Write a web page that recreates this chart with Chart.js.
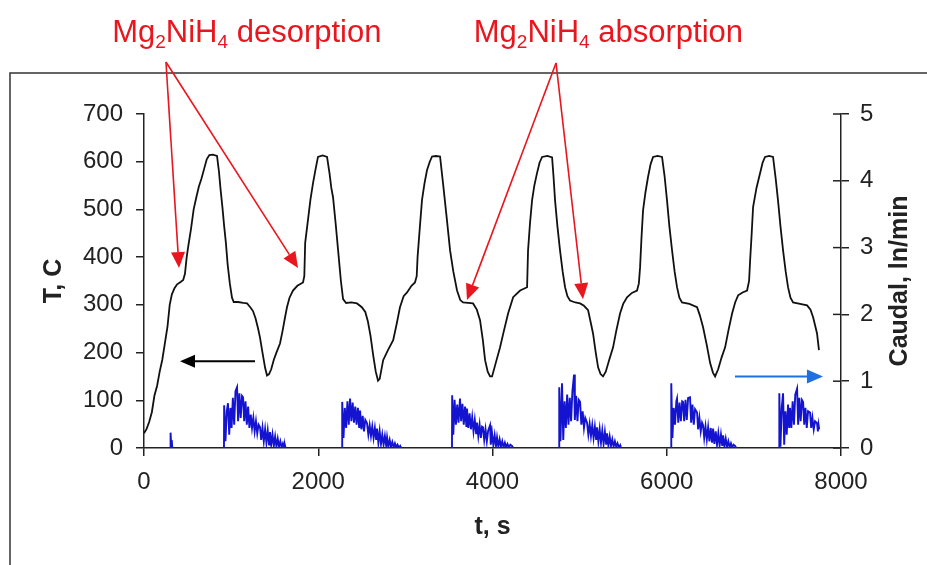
<!DOCTYPE html>
<html>
<head>
<meta charset="utf-8">
<script src="https://cdn.jsdelivr.net/npm/chart.js@4.4.1/dist/chart.umd.min.js"></script>
<style>
  html, body { margin: 0; padding: 0; background: #fff; }
  #wrap { width: 927px; height: 565px; }
</style>
</head>
<body>
<div id="wrap"><canvas id="tempChart" width="927" height="565"></canvas></div>
<script>
// temperature T (C) vs time t (s)
const tempTime = [
  0, 30, 60, 90, 120, 150, 180, 210, 240, 270, 295, 320, 350, 380, 420, 450, 470, 490, 510, 540,
  570, 600, 630, 660, 690, 720, 750, 790, 838, 860, 880, 900, 920, 940, 960, 985, 1010, 1030, 1080, 1140,
  1183, 1220, 1251, 1280, 1310, 1331, 1360, 1390, 1412, 1435,
  1460, 1490, 1520, 1561, 1590, 1620, 1641, 1670, 1710, 1760, 1825, 1840, 1850, 1880, 1910, 1940, 1970, 1997, 2050, 2101,
  2130, 2150, 2170, 2200, 2230, 2260, 2285, 2320, 2380, 2445, 2500, 2540, 2570, 2600, 2630, 2660, 2686, 2705,
  2745, 2800, 2860, 2900, 2938, 2980, 3019, 3070, 3110, 3130, 3140, 3165, 3191, 3220, 3248, 3280, 3306, 3350, 3398, 3432,
  3470, 3513, 3550, 3593, 3630, 3662, 3720, 3777, 3820, 3857, 3890, 3915, 3945, 3972,
  3995, 4040, 4087, 4130, 4179, 4237, 4317, 4397, 4408, 4430, 4454, 4480, 4511, 4540, 4569, 4630, 4684, 4700, 4718, 4745,
  4775, 4805, 4833, 4860, 4890, 4950, 5005, 5050, 5097, 5125, 5154, 5185, 5212, 5240, 5269,
  5300, 5340, 5384, 5420, 5464, 5500, 5544, 5600, 5659, 5680, 5694, 5710, 5728, 5755, 5785, 5815, 5843, 5895, 5946, 5975,
  6003, 6030, 6061, 6090, 6118, 6145, 6175, 6260, 6348, 6380, 6417, 6460, 6498, 6530, 6555,
  6590, 6630, 6670, 6710, 6750, 6785, 6819, 6870, 6922, 6945, 6957, 6975, 6991, 7030, 7071, 7100, 7128, 7175, 7220, 7250,
  7277, 7305, 7335, 7365, 7392, 7420, 7450, 7530, 7611, 7650, 7680, 7705, 7725, 7747
];
const tempC = [
  31, 40, 55, 75, 110, 130, 160, 185, 220, 255, 300, 322, 335, 343, 348, 352, 365, 400, 425, 460,
  500, 525, 548, 565, 585, 605, 614, 615, 612, 580, 540, 505, 465, 430, 385, 345, 315, 306, 306, 304,
  303, 295, 287, 272, 250, 232, 200, 168, 152, 155,
  165, 185, 200, 219, 245, 275, 295, 315, 330, 340, 347, 360, 430, 475, 520, 555, 585, 610, 613, 610,
  575, 545, 525, 470, 410, 350, 312, 304, 305, 303, 295, 285, 265, 235, 195, 160, 141, 145,
  184, 205, 226, 260, 295, 318, 326, 340, 347, 360, 400, 460, 520, 555, 582, 600, 611, 612, 611, 555,
  490, 414, 370, 330, 310, 305, 304, 303, 290, 268, 225, 184, 160, 150,
  150, 180, 211, 245, 282, 316, 330, 337, 414, 470, 519, 550, 576, 598, 610, 612, 609, 570, 519, 465,
  414, 370, 337, 318, 309, 305, 303, 298, 289, 265, 240, 200, 169, 155, 150,
  160, 185, 211, 245, 282, 302, 316, 325, 330, 345, 379, 440, 498, 535, 568, 595, 610, 612, 610, 570,
  519, 465, 414, 370, 337, 315, 305, 302, 295, 278, 253, 215, 178, 158, 150,
  165, 190, 211, 248, 282, 305, 320, 326, 330, 350, 393, 450, 505, 545, 576, 598, 610, 612, 610, 565,
  519, 465, 414, 370, 337, 315, 305, 302, 299, 290, 274, 255, 240, 205
];

// gas flow (ln/min) bursts, null = no flow between bursts
const flowTime = [
  300, 305, 312, 318, 325, 330,
  918, 920, 935, 950, 964, 978, 992, 1005, 1020, 1035, 1050, 1068, 1080, 1095, 1110, 1125, 1137, 1150, 1165, 1180,
  1195, 1210, 1225, 1240, 1255, 1270, 1285, 1300, 1315, 1332, 1345, 1360, 1375, 1390, 1405, 1420, 1435, 1446, 1460, 1475,
  1490, 1505, 1520, 1535, 1550, 1565, 1580, 1595, 1610, 1618, 1625, 1630,
  2273, 2275, 2290, 2305, 2320, 2335, 2350, 2365, 2380, 2395, 2410, 2425, 2440, 2455, 2470, 2480, 2495, 2510, 2525, 2540,
  2560, 2575, 2590, 2605, 2620, 2635, 2650, 2665, 2675, 2690, 2705, 2720, 2735, 2750, 2765, 2780, 2790, 2805, 2820, 2835,
  2850, 2865, 2880, 2895, 2910, 2925, 2940, 2945, 2950,
  3535, 3537, 3550, 3565, 3580, 3595, 3610, 3627, 3640, 3655, 3670, 3685, 3700, 3707, 3722, 3737, 3752, 3767, 3782, 3797,
  3812, 3822, 3837, 3852, 3867, 3880, 3891, 3905, 3920, 3935, 3950, 3972, 3980, 3995, 4010, 4025, 4040, 4052, 4067, 4082,
  4097, 4112, 4127, 4142, 4157, 4172, 4190, 4205, 4225, 4230, 4235,
  4764, 4766, 4780, 4798, 4812, 4827, 4842, 4857, 4872, 4887, 4902, 4917, 4936, 4945, 4960, 4975, 4990, 5005, 5020, 5035,
  5050, 5065, 5085, 5100, 5115, 5130, 5145, 5160, 5175, 5190, 5200, 5215, 5230, 5245, 5260, 5275, 5290, 5305, 5315, 5330,
  5345, 5360, 5375, 5390, 5405, 5420, 5435, 5450, 5465, 5470, 5475,
  6050, 6052, 6065, 6080, 6095, 6110, 6118, 6132, 6147, 6162, 6177, 6187, 6200, 6215, 6230, 6245, 6267, 6280, 6295, 6310,
  6325, 6348, 6360, 6375, 6390, 6405, 6417, 6430, 6445, 6460, 6475, 6490, 6505, 6520, 6532, 6547, 6562, 6577, 6592, 6607,
  6622, 6637, 6647, 6662, 6677, 6692, 6707, 6722, 6737, 6752, 6767, 6785, 6790, 6795,
  7290, 7292, 7305, 7320, 7335, 7348, 7362, 7377, 7392, 7405, 7415, 7430, 7445, 7460, 7475, 7496, 7508, 7522, 7537, 7552,
  7565, 7578, 7592, 7607, 7622, 7645, 7658, 7672, 7687, 7702, 7725, 7735, 7742, 7750
];
const flowVal = [
  0, 0.23, 0.05, 0.12, 0, null,
  0, 0.64, 0.1, 0.55, 0.67, 0.2, 0.6, 0.3, 0.75, 0.35, 0.85, 0.91, 0.4, 0.82, 0.45, 0.78, 0.76, 0.4, 0.7, 0.35,
  0.62, 0.3, 0.5, 0.3, 0.45, 0.25, 0.4, 0.22, 0.35, 0.31, 0.12, 0.3, 0.1, 0.28, 0.08, 0.26, 0.05, 0.24, 0.05, 0.2,
  0.03, 0.17, 0.02, 0.14, 0.02, 0.1, 0.01, 0.07, 0.01, 0.04, 0, null,
  0, 0.69, 0.15, 0.6, 0.3, 0.7, 0.35, 0.74, 0.4, 0.68, 0.38, 0.62, 0.35, 0.6, 0.3, 0.56, 0.28, 0.48, 0.25, 0.42,
  0.37, 0.2, 0.34, 0.18, 0.32, 0.15, 0.3, 0.12, 0.29, 0.08, 0.25, 0.06, 0.2, 0.05, 0.18, 0.03, 0.16, 0.02, 0.12, 0.02,
  0.09, 0.01, 0.07, 0.01, 0.05, 0.01, 0.03, 0, null,
  0, 0.79, 0.2, 0.72, 0.35, 0.65, 0.38, 0.74, 0.4, 0.66, 0.35, 0.62, 0.33, 0.59, 0.3, 0.52, 0.28, 0.46, 0.25, 0.42,
  0.22, 0.38, 0.18, 0.35, 0.15, 0.32, 0.31, 0.12, 0.28, 0.1, 0.26, 0.34, 0.05, 0.22, 0.04, 0.19, 0.03, 0.16, 0.02, 0.13,
  0.02, 0.1, 0.01, 0.08, 0.01, 0.06, 0.01, 0.05, 0.03, 0, null,
  0, 0.91, 0.1, 0.97, 0.12, 0.7, 0.3, 0.8, 0.35, 0.75, 0.4, 0.85, 1.1, 0.42, 0.78, 0.4, 0.72, 0.69, 0.35, 0.55,
  0.3, 0.45, 0.38, 0.2, 0.36, 0.18, 0.34, 0.15, 0.32, 0.12, 0.31, 0.1, 0.28, 0.08, 0.26, 0.06, 0.24, 0.05, 0.22, 0.04,
  0.17, 0.03, 0.13, 0.02, 0.1, 0.02, 0.07, 0.01, 0.04, 0, null,
  0, 0.97, 0.15, 0.6, 0.35, 0.7, 0.74, 0.38, 0.68, 0.4, 0.7, 0.69, 0.4, 0.72, 0.42, 0.75, 0.76, 0.38, 0.65, 0.35,
  0.58, 0.53, 0.28, 0.45, 0.25, 0.38, 0.34, 0.15, 0.32, 0.13, 0.31, 0.1, 0.3, 0.08, 0.29, 0.06, 0.25, 0.05, 0.22, 0.04,
  0.2, 0.03, 0.19, 0.02, 0.14, 0.02, 0.1, 0.01, 0.07, 0.01, 0.05, 0.03, 0, null,
  0, 0.82, 0.02, 0.6, 0.82, 0.05, 0.55, 0.2, 0.65, 0.3, 0.6, 0.3, 0.7, 0.35, 0.8, 0.89, 0.35, 0.75, 0.4, 0.72,
  0.69, 0.35, 0.6, 0.3, 0.55, 0.53, 0.3, 0.45, 0.28, 0.4, 0.37, 0.25, 0.35, 0.28
];

// axis ticks
const timeTicks = [0, 2000, 4000, 6000, 8000];
const tempTicks = [0, 100, 200, 300, 400, 500, 600, 700];
const flowTicks = [0, 1, 2, 3, 4, 5];

// annotation arrows in data units: [t0, T0, t1, T1] (tail -> tip)
const desorptionArrows = [[252, 809, 402, 377], [252, 809, 1768, 377]];
const absorptionArrows = [[4729, 807, 3707, 310], [4729, 807, 5039, 312]];
const tempArrow = [1274, 182, 413, 182];   // points at left axis
const flowArrow = [6783, 1.07, 7793, 1.07]; // points at right axis (flow units)

const FONT = "'Liberation Sans', Arial, sans-serif";
const INK = '#222';
const RED = '#e8161e';

function drawArrow(ctx, x0, y0, x1, y1, color, width, len, half) {
    const a = Math.atan2(y1 - y0, x1 - x0);
    const bx = x1 - len * Math.cos(a);
    const by = y1 - len * Math.sin(a);
    ctx.strokeStyle = color;
    ctx.fillStyle = color;
    ctx.lineWidth = width;
    ctx.beginPath();
    ctx.moveTo(x0, y0);
    ctx.lineTo(bx, by);
    ctx.stroke();
    ctx.beginPath();
    ctx.moveTo(x1, y1);
    ctx.lineTo(bx + half * Math.sin(a), by - half * Math.cos(a));
    ctx.lineTo(bx - half * Math.sin(a), by + half * Math.cos(a));
    ctx.closePath();
    ctx.fill();
}

// "Mg2NiH4 ..." with subscripts, centred on cx
function drawFormula(ctx, cx, baseY, tail) {
    const parts = [['Mg', 0], ['2', 1], ['NiH', 0], ['4', 1], [tail, 0]];
    const big = '31px ' + FONT, small = '19px ' + FONT;
    let total = 0;
    parts.forEach(([s, sub]) => { ctx.font = sub ? small : big; total += ctx.measureText(s).width; });
    let x = cx - total / 2;
    ctx.fillStyle = RED;
    ctx.textAlign = 'left';
    ctx.textBaseline = 'alphabetic';
    parts.forEach(([s, sub]) => {
        ctx.font = sub ? small : big;
        ctx.fillText(s, x, baseY + (sub ? 6 : 0));
        x += ctx.measureText(s).width;
    });
}

const annotations = {
    id: 'annotations',
    afterDraw(chart) {
        const { ctx, scales } = chart;
        const { x, y, y1 } = scales;
        ctx.save();

        // frame of the original figure
        ctx.strokeStyle = '#333';
        ctx.lineWidth = 1.5;
        ctx.beginPath();
        ctx.moveTo(927, 73);
        ctx.lineTo(10, 73);
        ctx.lineTo(10, 565);
        ctx.stroke();

        // inner half of the crossing ticks on the right axis
        ctx.strokeStyle = INK;
        ctx.lineWidth = 1.5;
        flowTicks.forEach(v => {
            const py = y1.getPixelForValue(v);
            ctx.beginPath();
            ctx.moveTo(chart.chartArea.right - 8, py);
            ctx.lineTo(chart.chartArea.right, py);
            ctx.stroke();
        });

        // right axis title, reading upwards
        ctx.save();
        ctx.translate(900, (chart.chartArea.top + chart.chartArea.bottom) / 2);
        ctx.rotate(-Math.PI / 2);
        ctx.font = 'bold 25px ' + FONT;
        ctx.fillStyle = INK;
        ctx.textAlign = 'center';
        ctx.textBaseline = 'middle';
        ctx.fillText('Caudal, ln/min', 0, 0);
        ctx.restore();

        const px = t => x.getPixelForValue(t);
        const pyT = v => y.getPixelForValue(v);
        const pyQ = v => y1.getPixelForValue(v);

        desorptionArrows.concat(absorptionArrows).forEach(([t0, v0, t1, v1]) => {
            drawArrow(ctx, px(t0), pyT(v0), px(t1), pyT(v1), RED, 1.6, 16, 7);
        });
        drawArrow(ctx, px(tempArrow[0]), pyT(tempArrow[1]), px(tempArrow[2]), pyT(tempArrow[3]), '#000', 2, 15, 6.5);
        drawArrow(ctx, px(flowArrow[0]), pyQ(flowArrow[1]), px(flowArrow[2]), pyQ(flowArrow[3]), '#1e6fe0', 2, 16, 7);

        drawFormula(ctx, px(1180), pyT(851), ' desorption');
        drawFormula(ctx, px(5330), pyT(851), ' absorption');

        ctx.restore();
    }
};

const axisLine = { color: INK, width: 1.5 };
const tickMarks = { drawOnChartArea: false, drawTicks: true, tickLength: 8, color: INK, lineWidth: 1.5 };
const tickFont = { family: FONT, size: 24 };

new Chart(document.getElementById('tempChart'), {
    type: 'line',
    data: {
        datasets: [
            {
                label: 'T',
                data: tempTime.map((t, i) => ({ x: t, y: tempC[i] })),
                yAxisID: 'y',
                borderColor: '#111',
                borderWidth: 1.8,
                pointRadius: 0,
                tension: 0
            },
            {
                label: 'Caudal',
                data: flowTime.map((t, i) => ({ x: t, y: flowVal[i] })),
                yAxisID: 'y1',
                borderColor: '#1414d0',
                borderWidth: 1.9,
                pointRadius: 0,
                tension: 0,
                spanGaps: false
            }
        ]
    },
    options: {
        responsive: false,
        animation: false,
        devicePixelRatio: 1,
        layout: { padding: { top: 114, left: 0, right: 0, bottom: 0 } },
        plugins: { legend: { display: false }, tooltip: { enabled: false } },
        scales: {
            x: {
                type: 'linear',
                min: 0,
                max: 8000,
                afterBuildTicks: s => { s.ticks = timeTicks.map(v => ({ value: v })); },
                ticks: { color: INK, font: tickFont, padding: 12, maxRotation: 0, callback: v => String(v) },
                grid: tickMarks,
                border: axisLine,
                title: { display: true, text: 't, s', color: INK, font: { family: FONT, size: 25, weight: 'bold' }, padding: { top: 0, bottom: 23 } },
                afterFit: s => { s.height = 117; }
            },
            y: {
                position: 'left',
                min: 0,
                max: 700,
                afterBuildTicks: s => { s.ticks = tempTicks.map(v => ({ value: v })); },
                ticks: { color: INK, font: tickFont, padding: 13, callback: v => String(v) },
                grid: tickMarks,
                border: axisLine,
                title: { display: true, text: 'T, C', color: INK, font: { family: FONT, size: 25, weight: 'bold' }, padding: { top: 39, bottom: 0 } },
                afterFit: s => { s.width = 144; }
            },
            y1: {
                position: 'right',
                min: 0,
                max: 5,
                afterBuildTicks: s => { s.ticks = flowTicks.map(v => ({ value: v })); },
                ticks: { color: INK, font: tickFont, padding: 11, callback: v => String(v) },
                grid: tickMarks,
                border: axisLine,
                afterFit: s => { s.width = 86; }
            }
        }
    },
    plugins: [annotations]
});
</script>
</body>
</html>
